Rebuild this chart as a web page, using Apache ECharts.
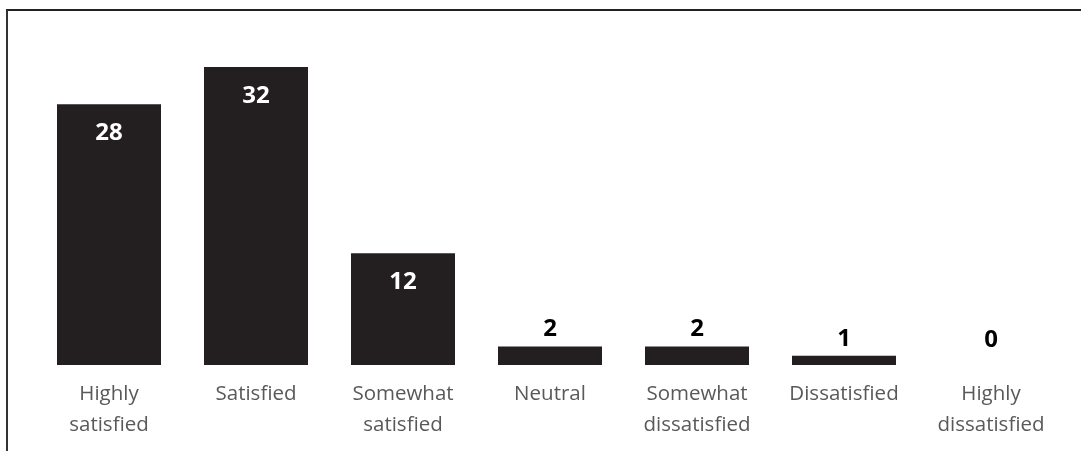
<!DOCTYPE html>
<html>
<head>
<meta charset="utf-8">
<script src="https://cdn.jsdelivr.net/npm/echarts@6/dist/echarts.min.js"></script>
<style>
  html, body { margin: 0; padding: 0; background: #fff; }
  #chart { width: 1081px; height: 451px; }
</style>
</head>
<body>
<div id="chart"></div>
<script>
var categories = [
  'Highly\nsatisfied', 'Satisfied', 'Somewhat\nsatisfied', 'Neutral',
  'Somewhat\ndissatisfied', 'Dissatisfied', 'Highly\ndissatisfied'
]
var values = [28, 32, 12, 2, 2, 1, 0]
// big bars carry the number inside, small ones above
var insideLimit = 10

var myChart = echarts.init(document.getElementById('chart'))

var barData = values.map(function(v) {
  var inside = v >= insideLimit
  return {
    value: v,
    label: {
      position: inside ? 'insideTop' : 'top',
      distance: inside ? 17 : (v === 0 ? 13 : 5),
      color: inside ? '#fff' : '#000'
    }
  }
})

option = {
  animation: false,
  grid: { left: 35.5, right: 16.5, top: 67, bottom: 86 },
  xAxis: {
    type: 'category',
    data: categories,
    axisLine: { show: false },
    axisTick: { show: false },
    axisLabel: {
      color: '#595959',
      fontFamily: 'Open Sans',
      fontSize: 20.5,
      lineHeight: 31,
      margin: 14,
      interval: 0
    }
  },
  yAxis: {
    type: 'value',
    min: 0,
    max: 32,
    show: false
  },
  series: [
    {
      type: 'bar',
      data: barData,
      barWidth: 104,
      itemStyle: { color: '#231f20' },
      label: {
        show: true,
        fontFamily: 'Open Sans',
        fontWeight: 'bold',
        fontSize: 24
      }
    }
  ],
  graphic: [
    { type: 'line', shape: { x1: 6, y1: 10, x2: 1081, y2: 10 }, style: { stroke: '#222', lineWidth: 2 } },
    { type: 'line', shape: { x1: 7, y1: 10, x2: 7, y2: 451 }, style: { stroke: '#333', lineWidth: 2 } }
  ]
}
myChart.setOption(option)
window.onresize = function() {
  myChart.resize()
}
</script>
</body>
</html>
